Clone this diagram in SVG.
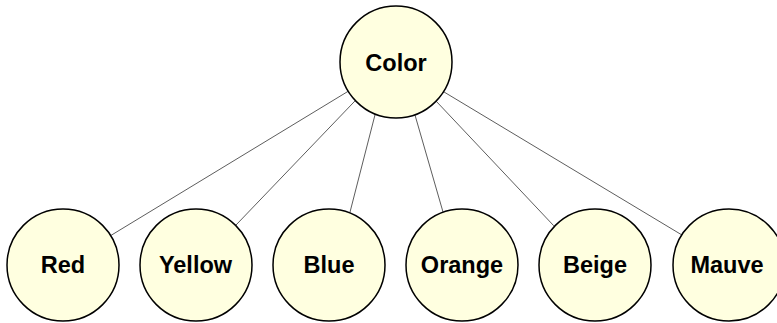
<svg xmlns="http://www.w3.org/2000/svg" width="777" height="323" viewBox="0 0 777 323">
<style>
.node circle{fill:#ffffe0;stroke:#000;stroke-width:1.5}
.node text{font-family:"Liberation Sans",Arial,sans-serif;font-weight:bold;font-size:23.5px;fill:#000;text-anchor:middle}
.edges line{stroke:#333;stroke-width:0.8}
</style>
<rect width="777" height="323" fill="#fff"/>
<g id="connectors" class="edges">
<line x1="348.3" y1="91.2" x2="110.3" y2="235.8"/>
<line x1="355.3" y1="100.6" x2="234.7" y2="226.4"/>
<line x1="375.2" y1="114.1" x2="349.8" y2="212.9"/>
<line x1="414.9" y1="114.7" x2="443.1" y2="212.3"/>
<line x1="436.2" y1="101.2" x2="553.8" y2="225.8"/>
<line x1="443.9" y1="91.9" x2="682.1" y2="235.1"/>
</g>
<g id="node-color" class="node"><circle cx="396" cy="62" r="56"/><text x="396" y="70.5">Color</text></g>
<g id="node-red" class="node"><circle cx="63" cy="265" r="56"/><text x="63" y="273">Red</text></g>
<g id="node-yellow" class="node"><circle cx="196" cy="265" r="56"/><text x="195.5" y="273">Yellow</text></g>
<g id="node-blue" class="node"><circle cx="329" cy="265" r="56"/><text x="329" y="273">Blue</text></g>
<g id="node-orange" class="node"><circle cx="462" cy="265" r="56"/><text x="462" y="273">Orange</text></g>
<g id="node-beige" class="node"><circle cx="595" cy="265" r="56"/><text x="595" y="273">Beige</text></g>
<g id="node-mauve" class="node"><circle cx="729" cy="265" r="56"/><text x="727" y="273">Mauve</text></g>
</svg>
